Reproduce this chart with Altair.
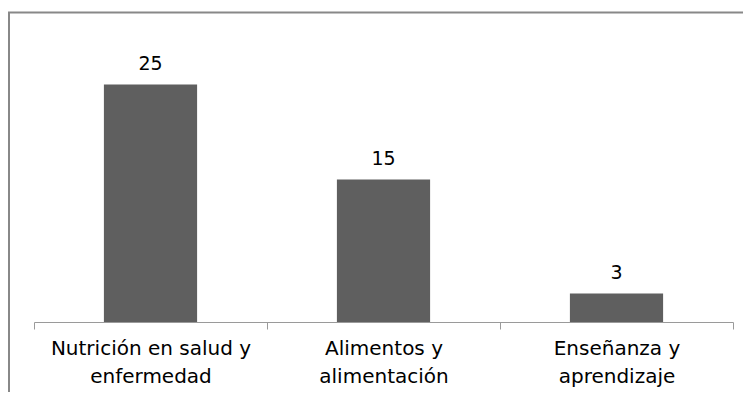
import altair as alt
import pandas as pd

categories = ["Nutrición en salud y\nenfermedad", "Alimentos y\nalimentación", "Enseñanza y\naprendizaje"]
values = [25, 15, 3]

df = pd.DataFrame({"cat": categories, "val": values})

W, H = 699, 285

x_enc = alt.X("cat:N", sort=None,
              scale=alt.Scale(paddingInner=0, paddingOuter=0),
              axis=alt.Axis(title=None, labelAngle=0, labelFont="DejaVu Sans", labelFontSize=20,
                            labelColor="#000000", labelLimit=400, labelLineHeight=28,
                            labelPadding=9, labelExpr="split(datum.label, '\\n')",
                            domainColor="#9a9a9a", tickColor="#9a9a9a", tickSize=7,
                            tickBand="extent", grid=False))
y_enc = alt.Y("val:Q", scale=alt.Scale(domain=[0, 30]), axis=None)

bars = alt.Chart(df).mark_bar(color="#5f5f5f", width=alt.RelativeBandSize(0.4)).encode(x=x_enc, y=y_enc)
labels = alt.Chart(df).mark_text(font="DejaVu Sans", fontSize=19, color="#000000",
                                  baseline="alphabetic", dy=-15).encode(
    x=alt.X("cat:N", sort=None), y="val:Q", text="val:Q")

border = alt.Chart(pd.DataFrame({"a": [0]})).mark_rect(
    fill=None, stroke="#888888", strokeWidth=2).encode(
    x=alt.value(-25), x2=alt.value(W + 40), y=alt.value(-24.5), y2=alt.value(H + 120))

chart = alt.layer(border, bars, labels).properties(
    width=W, height=H,
    padding={"left": 26, "top": 29, "right": 10, "bottom": 70},
    autosize=alt.AutoSizeParams(type="none"),
).configure_view(stroke=None)

chart.save("out.html", embed_options={"renderer": "svg", "actions": False})
